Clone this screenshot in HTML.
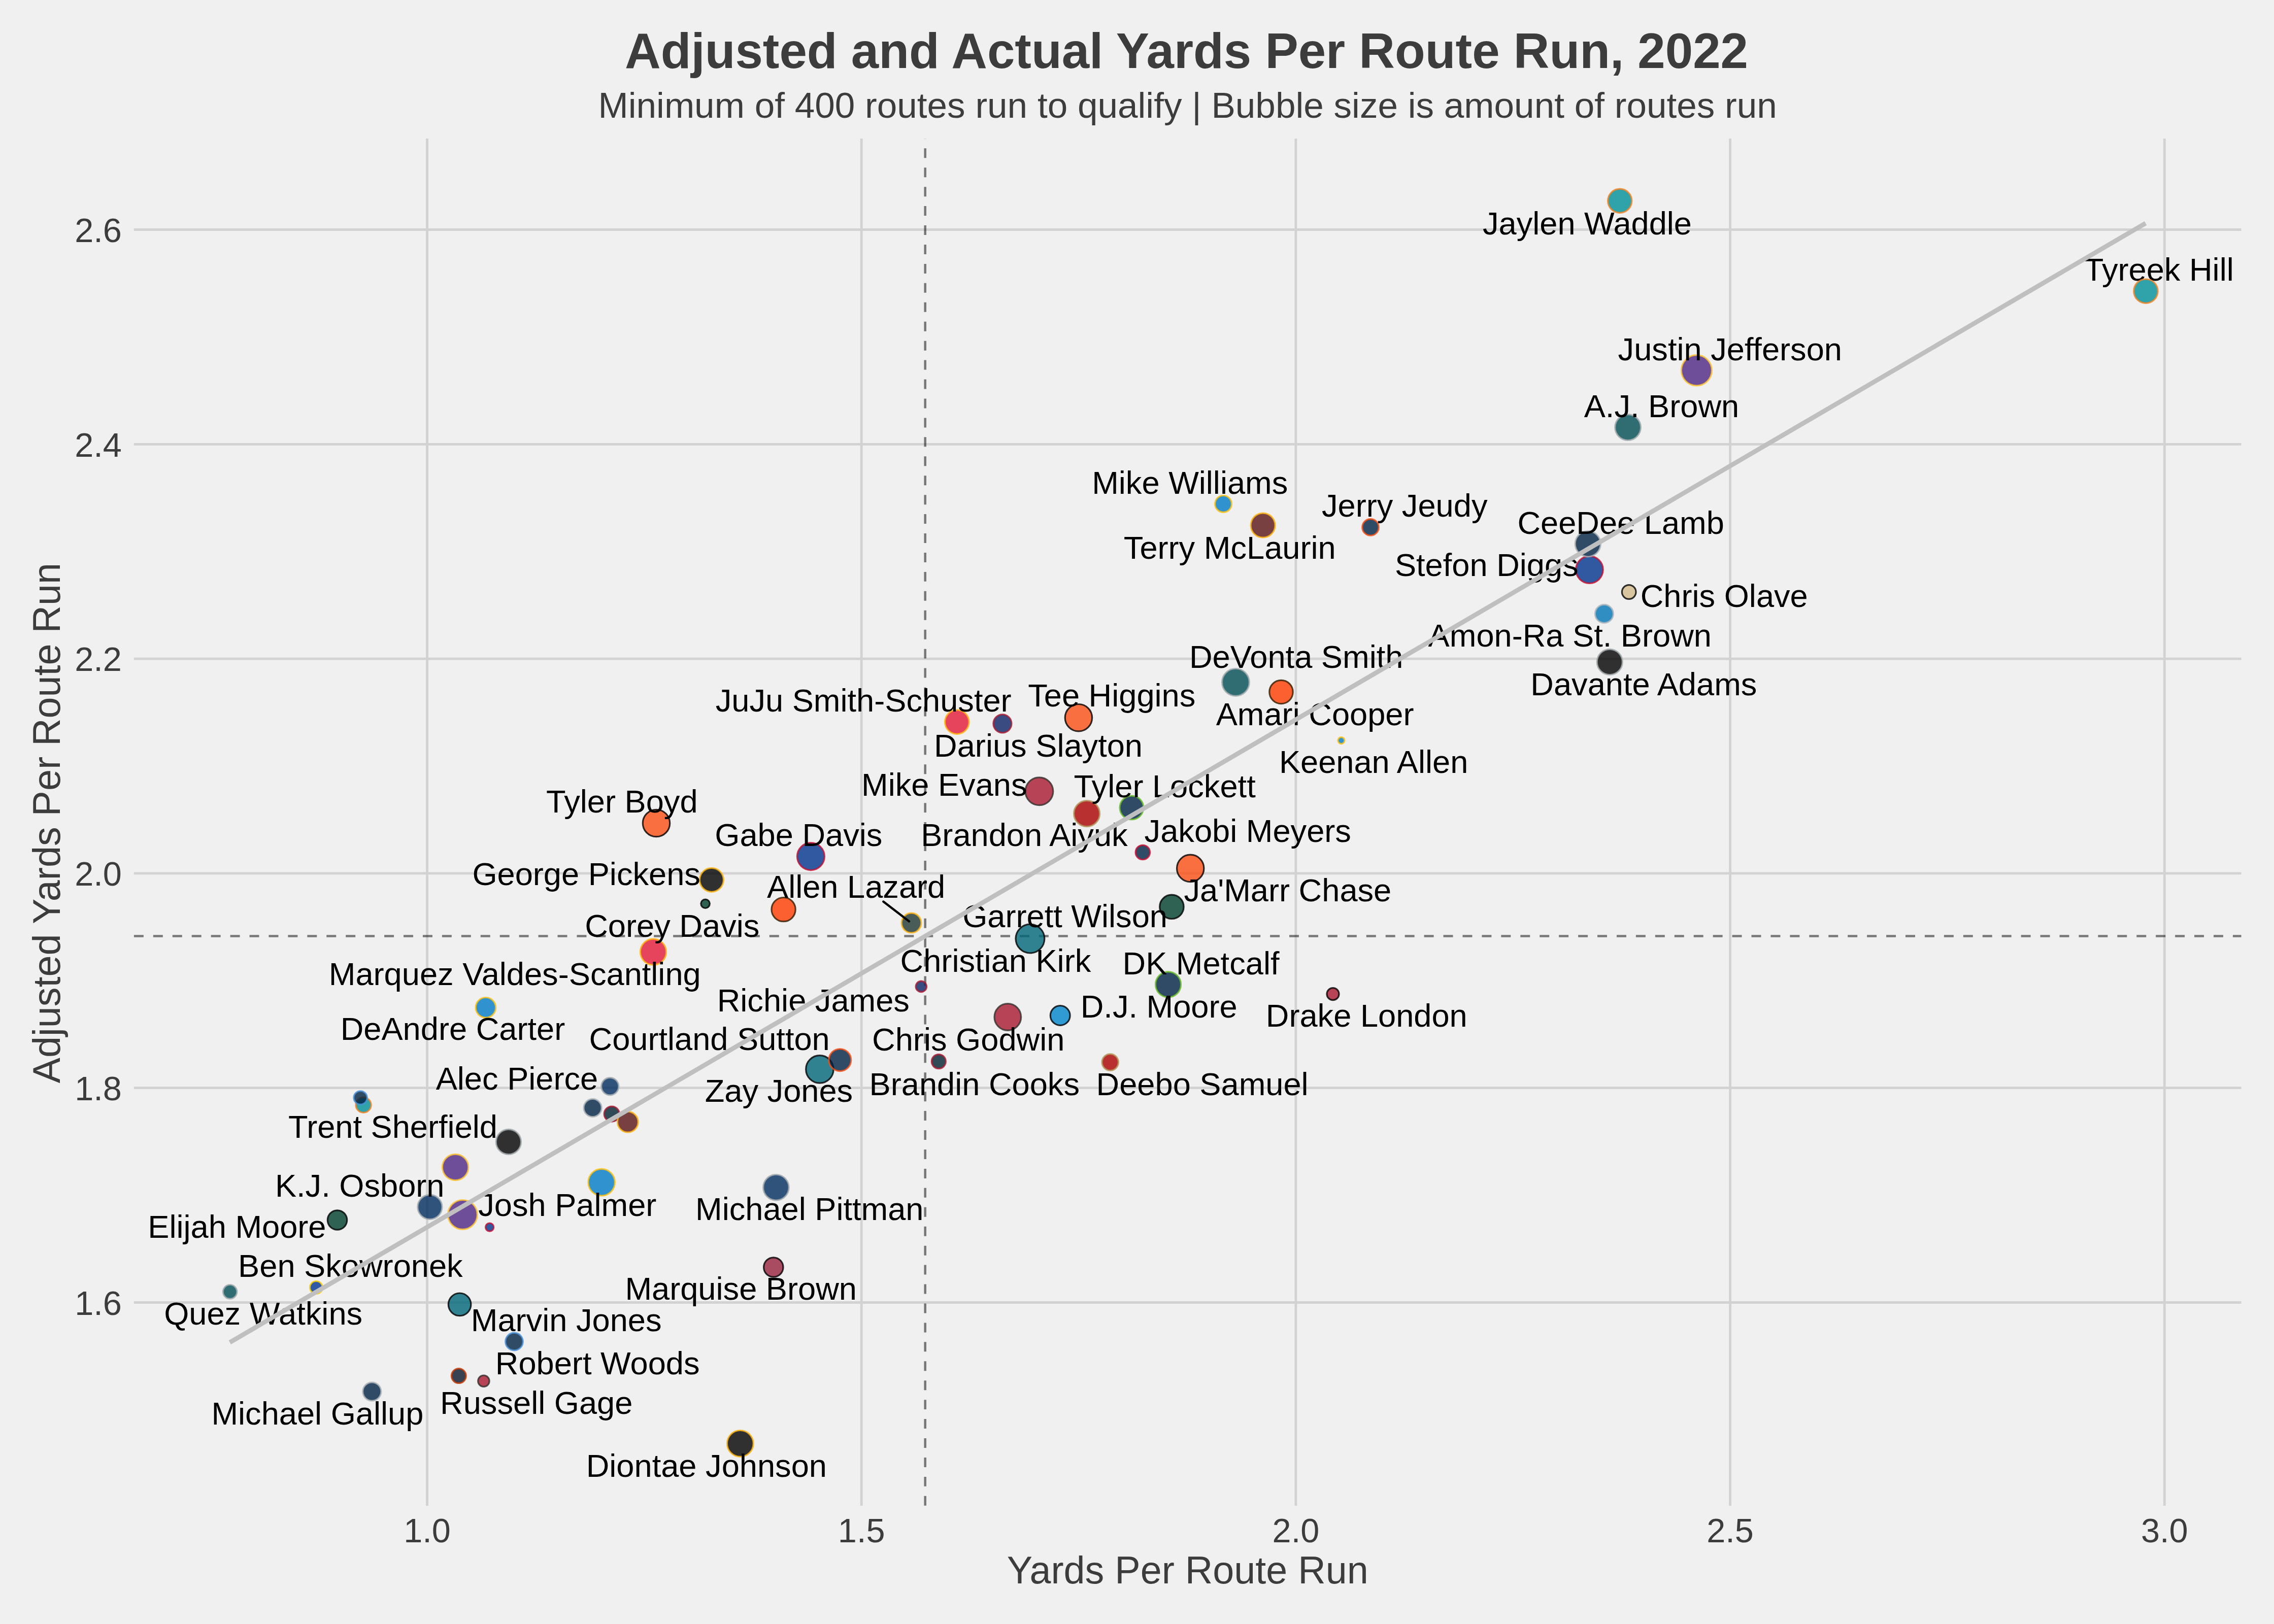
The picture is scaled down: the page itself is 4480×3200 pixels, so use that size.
<!DOCTYPE html>
<html lang="en"><head><meta charset="utf-8"><title>Adjusted and Actual Yards Per Route Run, 2022</title>
<style>html,body{margin:0;padding:0;background:#f0f0f0}body{width:4480px;height:3200px;overflow:hidden}svg text{white-space:pre}</style></head>
<body>
<svg width="4480" height="3200" viewBox="0 0 4480 3200" style="display:block">
<rect width="4480" height="3200" fill="#f0f0f0"/>
<g stroke="#d2d2d2" stroke-width="4.8" fill="none">
<line x1="841.50" y1="273.0" x2="841.50" y2="2966.9"/>
<line x1="1697.20" y1="273.0" x2="1697.20" y2="2966.9"/>
<line x1="2552.90" y1="273.0" x2="2552.90" y2="2966.9"/>
<line x1="3408.60" y1="273.0" x2="3408.60" y2="2966.9"/>
<line x1="4264.30" y1="273.0" x2="4264.30" y2="2966.9"/>
<line x1="263.8" y1="2566.50" x2="4415.5" y2="2566.50"/>
<line x1="263.8" y1="2143.70" x2="4415.5" y2="2143.70"/>
<line x1="263.8" y1="1720.90" x2="4415.5" y2="1720.90"/>
<line x1="263.8" y1="1298.10" x2="4415.5" y2="1298.10"/>
<line x1="263.8" y1="875.30" x2="4415.5" y2="875.30"/>
<line x1="263.8" y1="452.50" x2="4415.5" y2="452.50"/>
</g>
<g stroke="#000" stroke-opacity="0.5" stroke-width="4.6" fill="none">
<line x1="1822.7" y1="2966.8" x2="1822.7" y2="273.0" stroke-dasharray="18.968 18.968"/>
<line x1="263.9" y1="1844.55" x2="4415.5" y2="1844.55" stroke-dasharray="18.968 18.968"/>
</g>
<g stroke-width="3.2" fill-opacity="0.8" stroke-opacity="0.8">
<circle cx="3191.2" cy="395.8" r="23.60" fill="#008E97" stroke="#F58220"/>
<circle cx="3342.4" cy="729.8" r="30.10" fill="#4F2683" stroke="#FFC62F"/>
<circle cx="3207.1" cy="842.1" r="25.40" fill="#004C54" stroke="#A5ACAF"/>
<circle cx="2410.0" cy="992.9" r="16.40" fill="#007BC7" stroke="#FFC20E"/>
<circle cx="2488.1" cy="1035.2" r="24.00" fill="#5A1414" stroke="#FFB612"/>
<circle cx="2700.0" cy="1038.9" r="16.30" fill="#002244" stroke="#FB4F14"/>
<circle cx="3131.4" cy="1122.6" r="26.80" fill="#00338D" stroke="#C60C30"/>
<circle cx="3128.3" cy="1071.6" r="25.20" fill="#002244" stroke="#B0B7BC"/>
<circle cx="3209.2" cy="1166.5" r="13.80" fill="#D3BC8D" stroke="#000000"/>
<circle cx="3160.4" cy="1209.4" r="18.00" fill="#0076B6" stroke="#B0B7BC"/>
<circle cx="3171.3" cy="1304.4" r="25.10" fill="#000000" stroke="#A5ACAF"/>
<circle cx="2434.4" cy="1344.4" r="26.90" fill="#004C54" stroke="#A5ACAF"/>
<circle cx="2524.0" cy="1363.5" r="23.20" fill="#FF3C00" stroke="#311D00"/>
<circle cx="2642.4" cy="1459.1" r="6.50" fill="#007BC7" stroke="#FFC20E"/>
<circle cx="1885.3" cy="1422.6" r="23.80" fill="#E31837" stroke="#FFB612"/>
<circle cx="1974.9" cy="1425.8" r="18.00" fill="#0B2265" stroke="#A71930"/>
<circle cx="2124.9" cy="1414.2" r="26.70" fill="#FB4F14" stroke="#000000"/>
<circle cx="2047.4" cy="1559.2" r="27.40" fill="#A71930" stroke="#322F2B"/>
<circle cx="2141.1" cy="1603.2" r="25.50" fill="#AA0000" stroke="#B3995D"/>
<circle cx="2229.4" cy="1591.5" r="23.40" fill="#002244" stroke="#69BE28"/>
<circle cx="2251.3" cy="1679.5" r="14.20" fill="#002244" stroke="#C60C30"/>
<circle cx="2345.2" cy="1710.9" r="26.70" fill="#FB4F14" stroke="#000000"/>
<circle cx="2308.4" cy="1786.8" r="23.70" fill="#003F2D" stroke="#000000"/>
<circle cx="1293.0" cy="1622.0" r="26.70" fill="#FB4F14" stroke="#000000"/>
<circle cx="1597.4" cy="1687.6" r="27.00" fill="#00338D" stroke="#C60C30"/>
<circle cx="1401.9" cy="1733.8" r="23.50" fill="#000000" stroke="#FFB612"/>
<circle cx="1389.6" cy="1780.8" r="8.70" fill="#003F2D" stroke="#000000"/>
<circle cx="1543.6" cy="1792.1" r="23.60" fill="#FF3C00" stroke="#311D00"/>
<circle cx="1795.5" cy="1818.6" r="19.40" fill="#203731" stroke="#FFB612"/>
<circle cx="1287.0" cy="1875.7" r="25.60" fill="#E31837" stroke="#FFB612"/>
<circle cx="2029.4" cy="1849.6" r="28.40" fill="#006778" stroke="#000000"/>
<circle cx="1814.8" cy="1943.9" r="10.70" fill="#0B2265" stroke="#A71930"/>
<circle cx="1985.3" cy="2004.0" r="26.30" fill="#A71930" stroke="#322F2B"/>
<circle cx="2088.7" cy="2001.0" r="19.40" fill="#0085CA" stroke="#000000"/>
<circle cx="1614.9" cy="2106.9" r="27.20" fill="#006778" stroke="#000000"/>
<circle cx="1654.8" cy="2088.7" r="21.90" fill="#002244" stroke="#FB4F14"/>
<circle cx="1849.3" cy="2091.6" r="14.00" fill="#03202F" stroke="#A71930"/>
<circle cx="2187.2" cy="2093.1" r="16.20" fill="#AA0000" stroke="#B3995D"/>
<circle cx="2301.5" cy="1939.9" r="25.00" fill="#002244" stroke="#69BE28"/>
<circle cx="2626.0" cy="1958.7" r="12.00" fill="#A71930" stroke="#000000"/>
<circle cx="956.9" cy="1985.3" r="19.80" fill="#007BC7" stroke="#FFC20E"/>
<circle cx="716.0" cy="2177.3" r="15.10" fill="#008E97" stroke="#F58220"/>
<circle cx="710.1" cy="2163.0" r="13.20" fill="#002244" stroke="#4B92DB"/>
<circle cx="1001.9" cy="2250.0" r="24.70" fill="#000000" stroke="#A5ACAF"/>
<circle cx="897.1" cy="2300.0" r="25.70" fill="#4F2683" stroke="#FFC62F"/>
<circle cx="1201.8" cy="2140.7" r="17.10" fill="#002C5F" stroke="#A5ACAF"/>
<circle cx="1167.6" cy="2183.0" r="17.60" fill="#002244" stroke="#B0B7BC"/>
<circle cx="1205.2" cy="2195.1" r="15.00" fill="#03202F" stroke="#A71930"/>
<circle cx="1236.8" cy="2210.8" r="20.40" fill="#5A1414" stroke="#FFB612"/>
<circle cx="1185.1" cy="2329.7" r="26.30" fill="#007BC7" stroke="#FFC20E"/>
<circle cx="1528.9" cy="2339.8" r="25.30" fill="#002C5F" stroke="#A5ACAF"/>
<circle cx="846.9" cy="2378.3" r="24.10" fill="#002C5F" stroke="#A5ACAF"/>
<circle cx="911.4" cy="2393.4" r="28.90" fill="#4F2683" stroke="#FFC62F"/>
<circle cx="964.6" cy="2418.1" r="8.10" fill="#00338D" stroke="#C60C30"/>
<circle cx="664.5" cy="2404.0" r="19.20" fill="#003F2D" stroke="#000000"/>
<circle cx="453.1" cy="2545.3" r="13.80" fill="#004C54" stroke="#A5ACAF"/>
<circle cx="622.9" cy="2537.0" r="12.50" fill="#003594" stroke="#FFD100"/>
<circle cx="905.6" cy="2570.3" r="22.30" fill="#006778" stroke="#000000"/>
<circle cx="1013.0" cy="2643.5" r="17.30" fill="#002244" stroke="#4B92DB"/>
<circle cx="903.8" cy="2711.1" r="14.40" fill="#0B162A" stroke="#C83803"/>
<circle cx="952.9" cy="2721.2" r="11.20" fill="#A71930" stroke="#322F2B"/>
<circle cx="732.8" cy="2742.0" r="18.10" fill="#002244" stroke="#B0B7BC"/>
<circle cx="1523.8" cy="2497.0" r="19.20" fill="#97233F" stroke="#000000"/>
<circle cx="1458.3" cy="2844.4" r="25.90" fill="#000000" stroke="#FFB612"/>
</g>
<g font-family="'Liberation Sans', sans-serif" fill="#3c3c3c" font-size="66.67">
<text x="841.5" y="3038.8" text-anchor="middle">1.0</text>
<text x="1697.2" y="3038.8" text-anchor="middle">1.5</text>
<text x="2552.9" y="3038.8" text-anchor="middle">2.0</text>
<text x="3408.6" y="3038.8" text-anchor="middle">2.5</text>
<text x="4264.3" y="3038.8" text-anchor="middle">3.0</text>
<text x="239.8" y="2590.7" text-anchor="end">1.6</text>
<text x="239.8" y="2167.9" text-anchor="end">1.8</text>
<text x="239.8" y="1745.1" text-anchor="end">2.0</text>
<text x="239.8" y="1322.3" text-anchor="end">2.2</text>
<text x="239.8" y="899.5" text-anchor="end">2.4</text>
<text x="239.8" y="476.7" text-anchor="end">2.6</text>
</g>
<g font-family="'Liberation Sans', sans-serif" fill="#3c3c3c">
<text x="2337.5" y="133.9" text-anchor="middle" font-size="97.85" font-weight="bold">Adjusted and Actual Yards Per Route Run, 2022</text>
<text x="2339.7" y="231.7" text-anchor="middle" font-size="71.1">Minimum of 400 routes run to qualify | Bubble size is amount of routes run</text>
<text x="2339.7" y="3120.1" text-anchor="middle" font-size="75.5">Yards Per Route Run</text>
<text transform="translate(118.2 1621.7) rotate(-90)" text-anchor="middle" font-size="75.5">Adjusted Yards Per Route Run</text>
</g>
<g font-family="'Liberation Sans', sans-serif" fill="#000" font-size="63.2">
<text x="4105.8" y="553.2">Tyreek Hill</text>
<text x="2920.9" y="462.2">Jaylen Waddle</text>
<text x="3187.6" y="709.8">Justin Jefferson</text>
<text x="3120.7" y="822.0">A.J. Brown</text>
<text x="2151.2" y="972.5">Mike Williams</text>
<text x="2603.9" y="1018.1">Jerry Jeudy</text>
<text x="2213.8" y="1100.8">Terry McLaurin</text>
<text x="2989.4" y="1051.5">CeeDee Lamb</text>
<text x="2747.9" y="1135.2">Stefon Diggs</text>
<text x="3231.7" y="1196.0">Chris Olave</text>
<text x="2813.6" y="1274.1">Amon-Ra St. Brown</text>
<text x="2342.9" y="1316.0">DeVonta Smith</text>
<text x="3015.3" y="1370.2">Davante Adams</text>
<text x="2395.7" y="1428.8">Amari Cooper</text>
<text x="2519.9" y="1523.4">Keenan Allen</text>
<text x="1409.7" y="1402.2">JuJu Smith-Schuster</text>
<text x="2025.2" y="1391.9">Tee Higgins</text>
<text x="1840.1" y="1490.9">Darius Slayton</text>
<text x="1697.0" y="1568.3">Mike Evans</text>
<text x="2115.5" y="1570.6">Tyler Lockett</text>
<text x="1814.2" y="1667.2">Brandon Aiyuk</text>
<text x="2254.6" y="1659.2">Jakobi Meyers</text>
<text x="2332.4" y="1775.5">Ja'Marr Chase</text>
<text x="1896.2" y="1826.8">Garrett Wilson</text>
<text x="1076.1" y="1600.8">Tyler Boyd</text>
<text x="1408.3" y="1667.2">Gabe Davis</text>
<text x="930.4" y="1743.8">George Pickens</text>
<text x="1511.0" y="1768.9">Allen Lazard</text>
<text x="1152.2" y="1845.8">Corey Davis</text>
<text x="647.8" y="1941.0">Marquez Valdes-Scantling</text>
<text x="1773.6" y="1915.0">Christian Kirk</text>
<text x="2211.5" y="1920.4">DK Metcalf</text>
<text x="1412.7" y="1992.8">Richie James</text>
<text x="2128.7" y="2005.2">D.J. Moore</text>
<text x="2493.8" y="2023.2">Drake London</text>
<text x="1160.5" y="2069.2">Courtland Sutton</text>
<text x="1718.1" y="2069.7">Chris Godwin</text>
<text x="1712.6" y="2157.5">Brandin Cooks</text>
<text x="2159.6" y="2157.8">Deebo Samuel</text>
<text x="1388.7" y="2171.2">Zay Jones</text>
<text x="670.7" y="2049.4">DeAndre Carter</text>
<text x="858.7" y="2146.5">Alec Pierce</text>
<text x="567.9" y="2241.5">Trent Sherfield</text>
<text x="541.9" y="2357.9">K.J. Osborn</text>
<text x="942.2" y="2395.8">Josh Palmer</text>
<text x="1370.0" y="2404.3">Michael Pittman</text>
<text x="291.3" y="2438.7">Elijah Moore</text>
<text x="469.1" y="2516.2">Ben Skowronek</text>
<text x="323.2" y="2609.9">Quez Watkins</text>
<text x="927.8" y="2623.4">Marvin Jones</text>
<text x="1231.4" y="2561.4">Marquise Brown</text>
<text x="975.8" y="2708.0">Robert Woods</text>
<text x="867.1" y="2785.9">Russell Gage</text>
<text x="416.4" y="2806.6">Michael Gallup</text>
<text x="1154.7" y="2909.5">Diontae Johnson</text>
</g>
<circle cx="4227.4" cy="573.7" r="23.70" fill="#008E97" stroke="#F58220" stroke-width="3.2" fill-opacity="0.8" stroke-opacity="0.8"/>
<line x1="1740.3" y1="1776.5" x2="1791" y2="1815.5" stroke="#000" stroke-width="4.4" stroke-linecap="round"/>
<line x1="452.8" y1="2645.1" x2="4227.0" y2="439.9" stroke="#bfbfbf" stroke-width="9.0"/>
</svg>
</body></html>
